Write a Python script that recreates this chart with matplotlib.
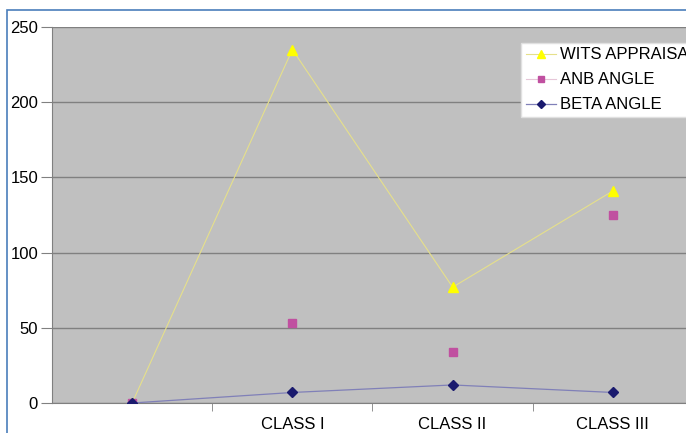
import matplotlib
matplotlib.use("Agg")
import matplotlib.pyplot as plt
from matplotlib.patches import Rectangle

plt.rcParams['font.family'] = ['Liberation Sans', 'DejaVu Sans']

# Data
categories = ["", "CLASS I", "CLASS II", "CLASS III"]
wits = [0, 235, 77, 141]
anb = [0, 53.5, 34, 125]
beta = [0, 7, 12, 7]

fig = plt.figure(figsize=(6.86, 4.33), dpi=100)
W, H = 686, 433
# plot area runs past the right edge of the image, as in the reference
ax = fig.add_axes([52 / W, 1 - 403 / H, (693 - 52) / W, (403 - 27) / H])
ax.set_facecolor('#c0c0c0')

x = list(range(len(categories)))
ax.plot(x, wits, color='#e6e08a', lw=0.8, marker='^', ms=7,
        mfc='#ffff00', mec='#ffff00', label='WITS APPRAISA', zorder=3)
# ANB line is invisible in the chart, only its markers show
ax.plot(x, anb, color=(1, 1, 1, 0), lw=0.8, marker='s', ms=6,
        mfc='#c050a0', mec='#c050a0', zorder=3)
ax.plot([], [], color='#e6c6d8', lw=0.8, marker='s', ms=5,
        mfc='#c050a0', mec='#c050a0', label='ANB ANGLE')
ax.plot(x, beta, color='#8080b8', lw=0.9, marker='D', ms=5,
        mfc='#1a1a6e', mec='#1a1a6e', label='BETA ANGLE', zorder=4)

ax.set_xlim(-0.5, 3.5)
ax.set_ylim(0, 250)
ax.set_yticks([0, 50, 100, 150, 200, 250])
ax.yaxis.grid(True, color='#808080', lw=1)
ax.set_axisbelow(True)

ax.set_xticks(x)
ax.set_xticklabels(categories)
ax.set_xticks([0.5, 1.5, 2.5], minor=True)
ax.tick_params(axis='x', which='major', length=0, pad=10, labelsize=12)
ax.tick_params(axis='x', which='minor', length=6, color='#808080')
ax.tick_params(axis='y', length=8, color='#808080', labelsize=12, pad=2)

for s in ['top', 'right']:
    ax.spines[s].set_visible(False)
for s in ['left', 'bottom']:
    ax.spines[s].set_color('#808080')

leg = ax.legend(loc='upper left', bbox_to_anchor=(513 / W, 1 - 35 / H),
                bbox_transform=fig.transFigure, frameon=True, fancybox=False,
                framealpha=1, edgecolor='#e0e0e0', fontsize=12,
                handlelength=1.8, borderpad=0.25, labelspacing=0.6,
                handletextpad=0.3, markerscale=0.8)

# blue border of the original chart frame
fig.patches.append(Rectangle((7 / W, -0.1), 1.2, 1 - 10 / H + 0.1,
                             transform=fig.transFigure, fill=False,
                             edgecolor='#4a7ebb', lw=1.2))

fig.savefig("out.png", dpi=100)
